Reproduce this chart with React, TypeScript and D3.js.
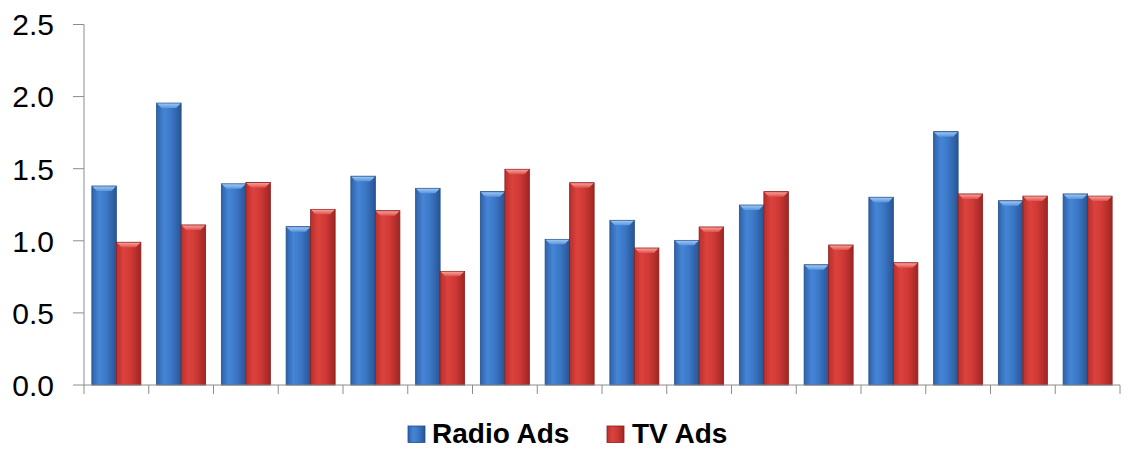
import React from "react";
import * as d3 from "d3";

const categories = ["1","2","3","4","5","6","7","8","9","10","11","12","13","14","15","16"];
const radioAds = [1.38, 1.955, 1.395, 1.098, 1.448, 1.364, 1.341, 1.01, 1.142, 1.003, 1.248, 0.834, 1.302, 1.757, 1.278, 1.325];
const tvAds = [0.99, 1.11, 1.405, 1.218, 1.209, 0.788, 1.496, 1.403, 0.95, 1.096, 1.341, 0.971, 0.848, 1.325, 1.31, 1.31];
const yTicks = [0, 0.5, 1.0, 1.5, 2.0, 2.5];
const seriesNames = ["Radio Ads", "TV Ads"];

const W = 1129, H = 449;
const left = 84, right = 1120, top = 24.5, bottom = 385;

export default function App() {
  const x = d3.scaleBand<string>().domain(categories).range([left, right]).paddingInner(0).paddingOuter(0);
  const y = d3.scaleLinear().domain([0, 2.5]).range([bottom, top]);
  const bw = x.bandwidth();
  const groupW = bw * 0.757;
  const sub = d3.scaleBand<string>().domain(seriesNames).range([(bw - groupW) / 2, (bw + groupW) / 2]);
  const barW = sub.bandwidth();
  const series = [
    { name: seriesNames[0], values: radioAds, grad: "gBlue", top: "tBlue", stroke: "#1f4f8a" },
    { name: seriesNames[1], values: tvAds, grad: "gRed", top: "tRed", stroke: "#8a1f1c" },
  ];
  const font = "'Liberation Sans', Arial, sans-serif";
  return (
    <svg width={W} height={H} style={{ position: "absolute", left: 0, top: 0, background: "#fff" }}>
      <defs>
        <linearGradient id="gBlue" x1="0" x2="1" y1="0" y2="0">
          <stop offset="0" stopColor="#2f62a8" />
          <stop offset="0.3" stopColor="#4685d6" />
          <stop offset="0.6" stopColor="#3b77c6" />
          <stop offset="1" stopColor="#285594" />
        </linearGradient>
        <linearGradient id="gRed" x1="0" x2="1" y1="0" y2="0">
          <stop offset="0" stopColor="#b82f2c" />
          <stop offset="0.3" stopColor="#dc423d" />
          <stop offset="0.6" stopColor="#cf3935" />
          <stop offset="1" stopColor="#9e2624" />
        </linearGradient>
        <linearGradient id="tBlue" x1="0" x2="0" y1="0" y2="1">
          <stop offset="0" stopColor="#9cc6f2" />
          <stop offset="1" stopColor="#5a95dd" />
        </linearGradient>
        <linearGradient id="tRed" x1="0" x2="0" y1="0" y2="1">
          <stop offset="0" stopColor="#f5a09a" />
          <stop offset="1" stopColor="#e2514b" />
        </linearGradient>
      </defs>
      {yTicks.map((t) => (
        <g key={t}>
          <line x1={left - 11} x2={left} y1={y(t)} y2={y(t)} stroke="#8c8c8c" strokeWidth={1} />
          <text x={54} y={y(t)} dy="0.36em" textAnchor="end" fontFamily={font} fontSize={30} fill="#000">
            {t.toFixed(1)}
          </text>
        </g>
      ))}
      {series.map((s) =>
        categories.map((c, i) => {
          const bx = (x(c) as number) + (sub(s.name) as number);
          const by = y(s.values[i]);
          const h = bottom - by;
          const bev = 5;
          return (
            <g key={s.name + c}>
              <rect x={bx} y={by} width={barW} height={h} fill={`url(#${s.grad})`} stroke={s.stroke} strokeWidth={0.8} />
              <path
                d={`M${bx + 0.5},${by + 0.5} L${bx + barW - 0.5},${by + 0.5} L${bx + barW - bev},${by + bev} L${bx + bev},${by + bev} Z`}
                fill={`url(#${s.top})`}
              />
            </g>
          );
        })
      )}
      <line x1={left} x2={left} y1={top} y2={bottom} stroke="#8c8c8c" strokeWidth={1} />
      <line x1={left} x2={right} y1={bottom} y2={bottom} stroke="#8c8c8c" strokeWidth={1} />
      {[...categories.map((c) => x(c) as number), right].map((tx, i) => (
        <line key={i} x1={tx} x2={tx} y1={bottom} y2={bottom + 9} stroke="#8c8c8c" strokeWidth={1} />
      ))}
      {[
        { sx: 408, tx: 432, label: seriesNames[0], g: "gBlue", st: "#1f4f8a" },
        { sx: 607, tx: 632, label: seriesNames[1], g: "gRed", st: "#8a1f1c" },
      ].map((l) => (
        <g key={l.label}>
          <rect x={l.sx} y={426} width={17} height={16.5} fill={`url(#${l.g})`} stroke={l.st} strokeWidth={0.8} />
          <text x={l.tx} y={443} fontFamily={font} fontWeight="bold" fontSize={28} fill="#000">
            {l.label}
          </text>
        </g>
      ))}
    </svg>
  );
}
